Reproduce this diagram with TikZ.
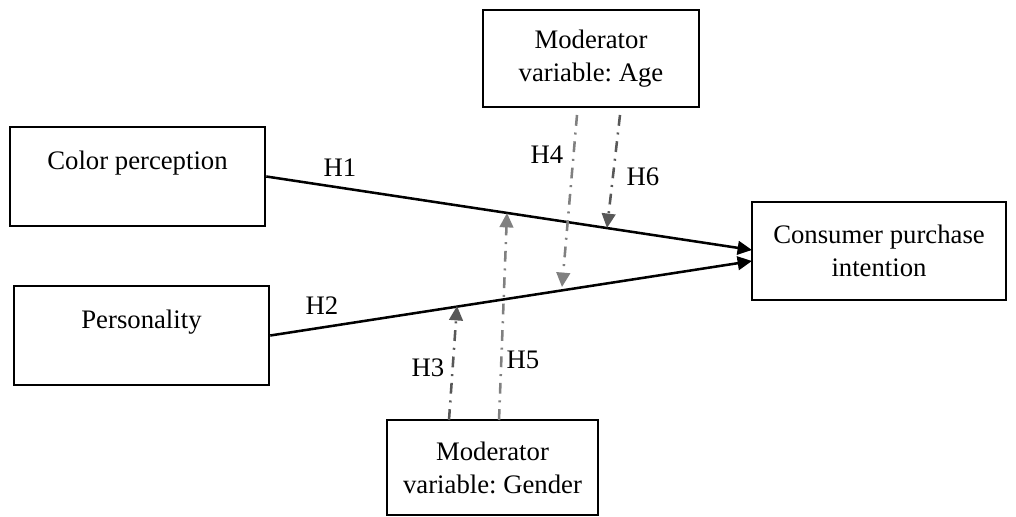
\documentclass[tikz,border=0pt]{standalone}
\usepackage{fontspec}
\setmainfont{Liberation Serif}
\usetikzlibrary{arrows.meta}
\definecolor{modlight}{RGB}{128,128,128}
\definecolor{moddark}{RGB}{88,88,88}
\frenchspacing

\begin{document}
\begin{tikzpicture}[x=0.025cm,y=-0.025cm,
	box/.style={draw,line width=1.8pt,inner sep=0pt,align=center,font=\fontsize{19}{23.5}\selectfont},
	hyp/.style={line width=1.8pt,-{Triangle[length=0.36cm,width=0.34cm]}},
	mod/.style={line width=1.8pt,dash pattern=on 0.27cm off 0.17cm on 0.05cm off 0.17cm,-{Triangle[length=0.36cm,width=0.34cm]}},
	lab/.style={font=\fontsize{19}{23.5}\selectfont}]
	\useasboundingbox (0,0) rectangle (1016,517);
	% boxes
	\node[box,minimum width=6.375cm,minimum height=2.475cm] at (137.5,176.5) (color) {Color perception\\ \mbox{}};
	\node[box,minimum width=6.375cm,minimum height=2.475cm] at (141.5,335.5) (pers) {Personality\\ \mbox{}};
	\node[box,minimum width=6.35cm,minimum height=2.45cm] at (879,251) (cons) {Consumer purchase\\intention};
	\node[box,minimum width=5.4cm,minimum height=2.425cm] at (591,58.5) (age) {Moderator\\variable: Age};
	\node[box,minimum width=5.275cm,minimum height=2.375cm] at (492.5,467.5) (gender) {Moderator\\variable: Gender};
	% main paths
	\coordinate (h1end) at (752,250);
	\coordinate (h2end) at (752,261);
	\draw[hyp] (color.east) -- (h1end);
	\draw[hyp] (pers.east) -- (h2end);
	\node[lab] at (340,168) (h1) {H1};
	\node[lab] at (322,306) (h2) {H2};
	% moderators
	\coordinate (h4start) at (577,115);
	\coordinate (h4end) at (562,287);
	\coordinate (h6start) at (620,115);
	\coordinate (h6end) at (607,228);
	\coordinate (h5start) at (499,420);
	\coordinate (h5end) at (507,213);
	\coordinate (h3start) at (449,420);
	\coordinate (h3end) at (457,306);
	\draw[mod,modlight] (h4start) -- (h4end);
	\draw[mod,moddark] (h6start) -- (h6end);
	\draw[mod,modlight] (h5start) -- (h5end);
	\draw[mod,moddark] (h3start) -- (h3end);
	\node[lab] at (547,155) (h4) {H4};
	\node[lab] at (643,177) (h6) {H6};
	\node[lab] at (523,360) (h5) {H5};
	\node[lab] at (428,368) (h3) {H3};
\end{tikzpicture}
\end{document}
